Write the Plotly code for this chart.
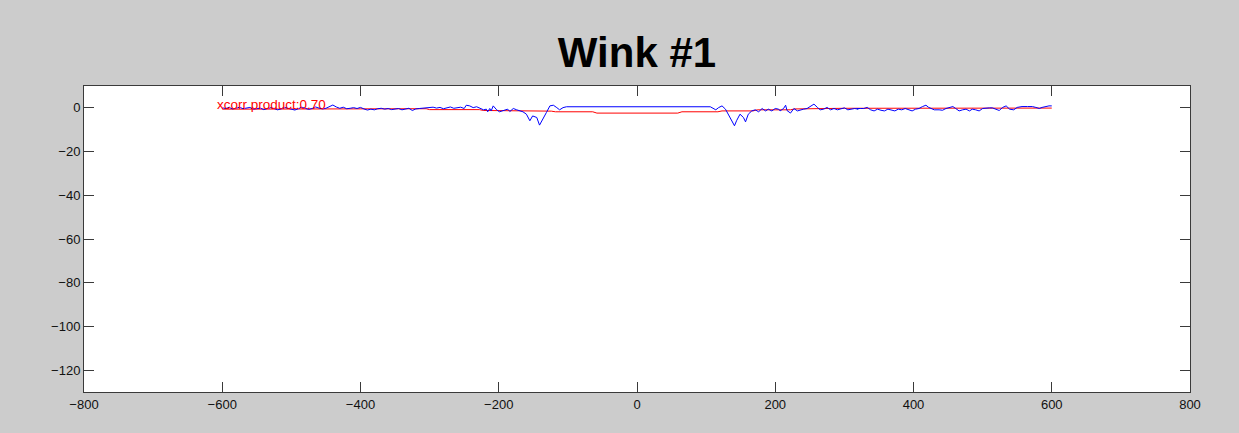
import plotly.graph_objects as go

# Blue signal (noisy), x positions and values
blue_x = [-600, -595, -590, -585, -580, -575, -570, -565, -560, -555, -550,
          -545, -540, -535, -530, -525, -520, -515, -510, -505, -500,
          -495, -490, -485, -480, -475, -470, -465, -460, -455, -450,
          -445, -440, -435, -430, -425, -420, -415, -410, -405, -400,
          -395, -390, -385, -380, -375, -370, -365, -360, -355, -350,
          -345, -340, -335, -330, -325, -320, -315, -310, -305, -300,
          -295, -290, -285, -280, -275, -270, -265, -260, -255, -250,
          -247, -242, -237, -232, -227, -222, -218, -216, -213, -211, -208,
          -203, -199, -194, -189, -187, -184, -179, -174, -170, -165, -160,
          -155, -151, -145, -141, -136, -131, -126, -121, -116, -112, -107, -102,
          106, 111, 114, 118, 123, 128, 132, 137, 141, 144, 149, 154, 157, 161,
          166, 171, 176, 181, 186, 190, 195, 200,
          205, 207, 212, 215, 217, 222, 227, 232, 236, 241, 246, 251, 256, 261,
          265, 270, 275, 280, 285, 290, 295, 300, 305, 310, 315, 320, 318, 323,
          328, 333, 338, 343, 348, 353, 358, 363, 368, 373, 378, 383, 388, 393,
          398, 403, 408, 413, 418, 422, 430, 437, 442, 447, 452, 457, 461, 466,
          471, 476, 481, 485, 490, 495, 500, 505, 510, 514, 519, 524, 529, 534,
          539, 545, 550, 557, 565, 572, 577, 582, 586, 591, 596, 600]
blue_y = [0.0, -0.3, 0.2, -0.5, -0.2, 0.3, -0.4, -0.1, 0.2, -0.6, -0.3,
          -0.1, -0.8, -0.4, 0.1, -0.3, -0.9, -0.5, 0.2, -0.2, -0.6,
          -1.0, -0.4, 0.3, -0.2, -0.7, -0.3, 0.4, -0.1, -0.5, -0.2,
          0.5, 1.3, 0.4, -0.2, 0.3, -0.4, -0.2, 0.1, -0.3, 0.2,
          -0.5, -1.0, -0.6, -0.9, -0.4, -0.2, -0.6, -0.3, -0.8, -0.5,
          -0.3, -0.9, -0.6, -0.2, -1.2, -0.5, -0.3, -0.1, 0.1, 0.0,
          0.3, -0.1, 0.2, -0.4, 0.1, 0.4, -0.2, 0.0, 0.3, -0.3,
          1.2, 0.9, 0.1, 0.5, -0.3, -0.9, -0.6, -1.8, -0.3, -1.4, 0.9,
          -0.9, -1.8, -1.4, -1.1, -0.6, -1.7, -0.3, -0.9, -1.2, -1.8, -2.9,
          -5.9, -3.7, -4.4, -7.9, -5.2, -2.1, 0.9, 1.2, 0.1, -0.9, 0.1, 0.5,
          0.5, -0.3, -0.9, 0.1, 0.9, -0.6, -2.9, -5.9, -8.2, -5.9, -2.9, -4.4, -6.4, -2.9,
          -1.4, -0.9, -1.8, -0.3, -1.4, -0.6, -1.4, -0.3,
          -0.6, -1.4, -0.3, 1.2, -1.2, -2.4, -0.3, -1.4, -0.9, -0.6, -0.3, 0.6, 1.7, 0.2,
          -0.9, -0.6, 0.2, -0.9, -0.3, -0.9, -0.3, 0.0, -0.9, -0.6, -0.3, -0.6, -0.3, -0.3,
          -0.3, 0.2, -0.9, -1.4, -0.6, -1.1, -1.4, -0.6, -0.9, -1.4, -0.6, -0.9, -0.3, -0.9,
          -1.4, -0.6, -0.3, 0.6, 1.2, 0.2, -0.9, -0.9, -1.1, -0.3, 0.2, 0.6, -0.3, -1.4,
          -0.9, -0.6, -1.4, -0.6, -0.9, -1.4, -0.3, 0.0, 0.0, 0.0, -0.6, -1.2, 0.2, 0.9,
          -0.6, -0.9, 0.2, 0.6, 0.6, 0.6, 0.2, -0.3, 0.2, 0.6, 0.9, 0.9, 1.2, 0.9]

# Red signal (smooth, step-like)
red_x = [-600, -305, -300, -228, -222, -170, -164, -124, -118, -64, -58,
         59, 65, 117, 123, 168, 174, 222, 228, 300, 600]
red_y = [-0.6, -0.4, -0.8, -0.8, -1.2, -1.2, -1.5, -1.5, -1.8, -1.8, -2.4,
         -2.4, -1.8, -1.8, -1.4, -1.4, -0.9, -0.9, -0.5, -0.2, -0.1]

# Annotation text
label_text = "xcorr product:0.70"
label_x = -600
label_y = 0

x_ticks = [-800, -600, -400, -200, 0, 200, 400, 600, 800]
y_ticks = [-120, -100, -80, -60, -40, -20, 0]

FONT = "Arial"

fig = go.Figure()
fig.add_trace(go.Scatter(x=red_x, y=red_y, mode="lines",
                         line=dict(color="#ff0000", width=1), showlegend=False))
fig.add_trace(go.Scatter(x=blue_x, y=blue_y, mode="lines",
                         line=dict(color="#0000ff", width=1), showlegend=False))

fig.add_annotation(x=label_x, y=label_y, text=label_text, showarrow=False,
                   xanchor="left", yanchor="bottom", yshift=-6, xshift=-7,
                   font=dict(family=FONT, size=13.5, color="#ff0000"))

axis_common = dict(
    showgrid=False, zeroline=False, showline=True, linecolor="#3a3a3a", linewidth=1,
    mirror="ticks", ticks="inside", ticklen=10, tickwidth=1, tickcolor="#3a3a3a",
    tickfont=dict(family=FONT, size=13, color="#111111"),
)

fig.update_layout(
    width=1239, height=433,
    paper_bgcolor="#cccccc", plot_bgcolor="#ffffff",
    margin=dict(l=84, r=49, t=86, b=41),
    title=dict(text="Wink #1", x=0.5, xref="paper", xanchor="center",
               y=0.88, yanchor="middle",
               font=dict(family=FONT, size=42, color="#000000", weight=700)),
    xaxis=dict(range=[-800, 800], tickvals=x_ticks, **axis_common),
    yaxis=dict(range=[-130, 10], tickvals=y_ticks, **axis_common),
)

fig.write_html("out.html")
